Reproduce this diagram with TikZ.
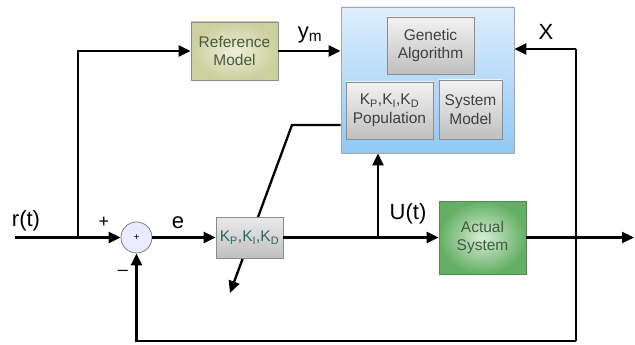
\documentclass[tikz,border=0pt]{standalone}
\usepackage{fontspec}
\setmainfont{Liberation Sans}
\usetikzlibrary{arrows.meta}
\definecolor{refin}{RGB}{238,240,215}
\definecolor{refout}{RGB}{204,207,158}
\definecolor{plantin}{RGB}{215,238,215}
\definecolor{plantout}{RGB}{100,175,100}
\definecolor{gatop}{RGB}{222,238,252}
\definecolor{gabot}{RGB}{145,200,245}
\definecolor{boxtxt}{RGB}{70,90,65}
\definecolor{pidtxt}{RGB}{40,105,100}
\begin{document}
\begin{tikzpicture}[x=1pt,y=-1pt,
	wire/.style={line width=2.3pt},
	sig/.style={line width=2.3pt,-{Triangle[length=12pt,width=11pt]}},
	blk/.style={draw=black!45,line width=0.8pt,align=center,inner sep=0pt,text=boxtxt,font=\fontsize{15.5}{18.5}\selectfont},
	inbox/.style={blk,top color=black!5,bottom color=black!25,text=black!75},
	lbl/.style={font=\fontsize{22}{24}\selectfont}]
	\useasboundingbox (0,0) rectangle (635,345);
	\node[blk,draw=black!35,top color=gatop,bottom color=gabot,minimum width=173pt,minimum height=146pt] (gabox) at (427.5,80) {};
	\node[inbox,minimum width=87pt,minimum height=57pt] (genalg) at (430.5,45.5) {Genetic\\Algorithm};
	\node[inbox,minimum width=87pt,minimum height=57pt] (pop) at (389.5,110.5) {K\textsubscript{P},K\textsubscript{I},K\textsubscript{D}\\Population};
	\node[inbox,minimum width=63pt,minimum height=59pt] (sysmod) at (470.5,109.5) {System\\Model};
	\node[blk,inner color=refin,outer color=refout,minimum width=87pt,minimum height=58pt] (ref) at (234.5,51) {Reference\\Model};
	\node[blk,inner color=plantin,outer color=plantout,draw=plantout!80!black,minimum width=87pt,minimum height=73pt] (plant) at (482.5,237.5) {Actual\\System};
	\node[circle,draw=black!50,line width=0.8pt,fill=blue!8,minimum size=31pt,inner sep=0pt,font=\fontsize{10}{12}\selectfont] (sum) at (136.5,237.5) {+};
	\coordinate (rin) at (15,237.5);
	\coordinate (split1) at (78,237.5);
	\coordinate (split2) at (378,237.5);
	\coordinate (yout) at (634,237.5);
	\coordinate (xin) at (576,49);
	\coordinate (fbbot) at (576,341);
	\coordinate (tune) at (292,125);
	\coordinate (tunetip) at (230,293);
	\draw[sig] (gabox.west |- tune) -- (tune) -- (tunetip);
	\node[blk,top color=black!8,bottom color=black!25,text=pidtxt,minimum width=67pt,minimum height=41pt] (pid) at (249.5,237.5) {K\textsubscript{P},K\textsubscript{I},K\textsubscript{D}};
	\draw[wire] (rin) -- (split1);
	\draw[sig] (split1) -- (sum);
	\draw[sig] (split1) |- (ref);
	\draw[sig] (ref) -- (ref -| gabox.west);
	\draw[sig] (sum) -- (pid);
	\draw[wire] (pid) -- (split2);
	\draw[sig] (split2) -- (plant);
	\draw[sig] (split2) -- (split2 |- gabox.south);
	\draw[sig] (plant) -- (yout);
	\draw[wire] (xin) -- (fbbot);
	\draw[sig] (xin) -- (xin -| gabox.east);
	\draw[sig] (fbbot) -| (sum);
	\node[lbl] (rlbl) at (26,221) {r(t)};
	\node[font=\fontsize{18}{20}\selectfont] (plus) at (104,222) {+};
	\node[font=\fontsize{18}{20}\selectfont] (minus) at (123,273) {\textendash};
	\node[lbl] (elbl) at (178,223) {e};
	\node[lbl] (ulbl) at (408,214) {U(t)};
	\node[lbl] (ymlbl) at (310,35) {y\textsubscript{m}};
	\node[lbl] (xlbl) at (546,32) {X};
\end{tikzpicture}
\end{document}
